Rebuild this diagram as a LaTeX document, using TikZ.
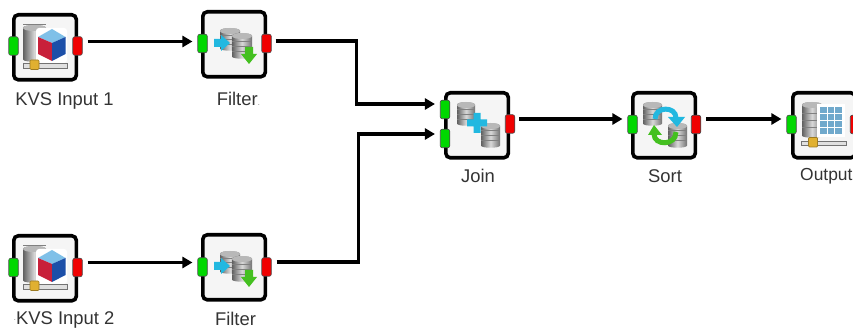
\documentclass[tikz,border=0pt]{standalone}
\usepackage{fontspec}
\setmainfont{Liberation Sans}
\usetikzlibrary{arrows.meta,calc}
\definecolor{boxfill}{HTML}{F5F5F5}
\definecolor{portg}{HTML}{00D800}
\definecolor{portr}{HTML}{F00000}
\definecolor{cubetop}{HTML}{7FC0E8}
\definecolor{cubeleft}{HTML}{C8203A}
\definecolor{cuberight}{HTML}{1C4FA8}
\definecolor{cyanicon}{HTML}{22B8E0}
\definecolor{greenicon}{HTML}{44C020}
\definecolor{handle}{HTML}{E0B030}
\tikzset{
  x=1pt,y=-1pt,
  opbox/.style={draw=black,line width=3.6pt,rounded corners=4.5pt,fill=boxfill,minimum width=62.5pt,minimum height=65pt,inner sep=0pt,outer sep=0pt,anchor=north west},
  inport/.style={draw=black!70,line width=.6pt,rounded corners=2pt,fill=portg,minimum width=9.5pt,minimum height=18.5pt,inner sep=0pt},
  outport/.style={draw=black!70,line width=.6pt,rounded corners=2pt,fill=portr,minimum width=9.5pt,minimum height=18.5pt,inner sep=0pt},
  lbl/.style={font=\fontsize{18.4}{21}\selectfont,text=black!80,inner sep=0pt},
  wire/.style={draw=black,line width=3.4pt,-{Triangle[length=10pt,width=11pt]},line join=miter},
}
% cylinder: left top right bottom (pixels)
\newcommand{\dbcyl}[4]{%
  \path[left color=black!62,right color=black!55,middle color=black!15]
    (#1,#2+3) -- (#1,#4-2.5) .. controls (#1,#4+.5) and (#3,#4+.5) .. (#3,#4-2.5) -- (#3,#2+3)
    .. controls (#3,#2-1) and (#1,#2-1) .. (#1,#2+3) -- cycle;
  \draw[black!50,line width=.4pt] (#1,{#2+(#4-#2)*.3}) -- (#3,{#2+(#4-#2)*.3})
     (#1,{#2+(#4-#2)*.5}) -- (#3,{#2+(#4-#2)*.5})
     (#1,{#2+(#4-#2)*.7}) -- (#3,{#2+(#4-#2)*.7});
  \fill[black!28] (#1,#2+3) .. controls (#1,#2+7) and (#3,#2+7) .. (#3,#2+3)
    .. controls (#3,#2-1) and (#1,#2-1) .. (#1,#2+3) -- cycle;
}
% slider: left y right ; handle left
\newcommand{\slider}[4]{%
  \draw[fill=black!12,draw=black!55,line width=.7pt] (#1,#2) rectangle (#3,#2+4.5);
  \draw[fill=handle,draw=handle!70!black,line width=.7pt,rounded corners=1pt] (#4,#2-3.5) rectangle (#4+9,#2+6);
}
% KVS icon, x/y of cube centre
\newcommand{\kvsicon}[2]{%
  \dbcyl{#1-29}{#2-19}{#1-6}{#2+18}
  \fill[white,rounded corners=3pt] (#1-16,#2-16) rectangle (#1+15,#2+19);
  \fill[cubetop] (#1,#2-15) -- (#1+13.5,#2-7) -- (#1,#2-1) -- (#1-14,#2-7) -- cycle;
  \fill[cubeleft] (#1-14,#2-7) -- (#1,#2-1) -- (#1,#2+17) -- (#1-14,#2+10) -- cycle;
  \fill[cuberight] (#1+13.5,#2-7) -- (#1,#2-1) -- (#1,#2+17) -- (#1+13.5,#2+10) -- cycle;
}
% filter icon, origin = box left top
\newcommand{\filtericon}[2]{%
  \begin{scope}[shift={(#1,#2)}]
    \dbcyl{19}{18}{39}{41}
    \dbcyl{31}{23}{51}{49}
    \fill[cyanicon] (13,29) -- (20,29) -- (20,25) -- (29,33) -- (20,41) -- (20,37) -- (13,37) -- cycle;
    \fill[greenicon] (44,37) -- (52,37) -- (52,44) -- (56,44) -- (48,54) -- (40,44) -- (44,44) -- cycle;
  \end{scope}
}
\begin{document}
\begin{tikzpicture}
\useasboundingbox (0,0) rectangle (853,328);
\clip (0,0) rectangle (853,328);
\fill[white] (0,0) rectangle (853,328);

% boxes
\node[opbox] (kvsa) at (13.8,14.8) {};
\node[opbox] (fila) at (202.8,11.8) {};
\node[opbox] (join) at (445.8,92.8) {};
\node[opbox] (sort) at (632.8,92.8) {};
\node[opbox] (outp) at (792.8,92.8) {};
\node[opbox] (kvsb) at (13.8,235.8) {};
\node[opbox] (filb) at (202.8,234.8) {};

% icons
\kvsicon{52}{44}
\slider{23}{63.5}{67.5}{30}
\kvsicon{52}{265}
\slider{23}{284.5}{67.5}{30}
\filtericon{201}{10}
\filtericon{201}{233}
% join
\dbcyl{457}{102}{475}{126}
\dbcyl{481}{123}{500}{148}
\fill[cyanicon] (473.5,113) rectangle (480.5,133) (467,119.5) rectangle (487,126.5);
% sort
\dbcyl{643}{102}{662}{126}
\dbcyl{668}{123}{687}{148}
\draw[cyanicon,line width=5pt] (655,119) .. controls (655,106) and (676,106) .. (676,118);
\fill[cyanicon] (668,117) -- (677,127) -- (685,117) -- cycle;
\draw[greenicon,line width=5pt] (676,132) .. controls (676,146) and (654,146) .. (654,134);
\fill[greenicon] (648,135) -- (654,125) -- (662,135) -- cycle;
% output
\dbcyl{802}{102}{822}{138}
\fill[white] (817,104) rectangle (845,137);
\fill[black!12!cubetop] (820,107) rectangle (842,134);
\draw[white,line width=.9pt] (820,113) -- (842,113) (820,120) -- (842,120) (820,127) -- (842,127)
  (827,107) -- (827,134) (834.5,107) -- (834.5,134);
\slider{801}{141}{846}{808.5}

% ports
\node[inport] (kvsai) at (13.5,46) {};
\node[outport] (kvsao) at (77.5,46) {};
\node[inport] (filai) at (202.5,43.5) {};
\node[outport] (filao) at (266.5,43.5) {};
\node[inport] (joina) at (445,109.5) {};
\node[inport] (joinb) at (445,138.5) {};
\node[outport] (joino) at (510,124) {};
\node[inport] (sorti) at (632.5,124.5) {};
\node[outport] (sorto) at (696,124.5) {};
\node[inport] (outpi) at (791.5,124.5) {};
\node[outport] (outpo) at (855,124.5) {};
\node[inport] (kvsbi) at (13.5,267.5) {};
\node[outport] (kvsbo) at (77.5,267.5) {};
\node[inport] (filbi) at (202.5,267) {};
\node[outport] (filbo) at (266.5,267) {};

% connectors
\draw[wire,shorten <=5pt,shorten >=5pt] ([yshift=4.5pt]kvsao.east) -- ([yshift=4.5pt]kvsao.east -| filai.west);
\draw[wire,shorten <=4pt,shorten >=5pt] ([yshift=2.5pt]filao.east) -- ++(85,0) |- ([yshift=5.5pt]joina.west);
\draw[wire,shorten <=5pt,shorten >=5pt] ([yshift=5pt]kvsbo.east) -- ([yshift=5pt]kvsbo.east -| filbi.west);
\draw[wire,shorten <=5pt,shorten >=5pt] ([yshift=5pt]filbo.east) -- ++(87,0) |- ([yshift=4.5pt]joinb.west);
\draw[wire,shorten <=4pt,shorten >=5pt] ([yshift=5pt]joino.east) -- ([yshift=5pt]joino.east -| sorti.west);
\draw[wire,shorten <=5pt,shorten >=5pt] ([yshift=5.5pt]sorto.east) -- ([yshift=5.5pt]sorto.east -| outpi.west);

% labels
\node[lbl] (t1) at (64.5,101) {KVS Input 1};
\node[lbl] (t2) at (238.5,99) {Filter{\color{black!40}\fontsize{9}{9}\selectfont.}};
\node[lbl] (t3) at (478,176) {Join};
\node[lbl] (t4) at (665,176) {Sort};
\node[lbl,anchor=west,font=\fontsize{17.4}{21}\selectfont] (t5) at (800,176) {Output};
\node[lbl] (t6) at (64,320) {{\color{black!40}\fontsize{9}{9}\selectfont\raisebox{4pt}{.}}KVS Input 2};
\node[lbl] (t7) at (235.5,319) {Filter};
\end{tikzpicture}
\end{document}
